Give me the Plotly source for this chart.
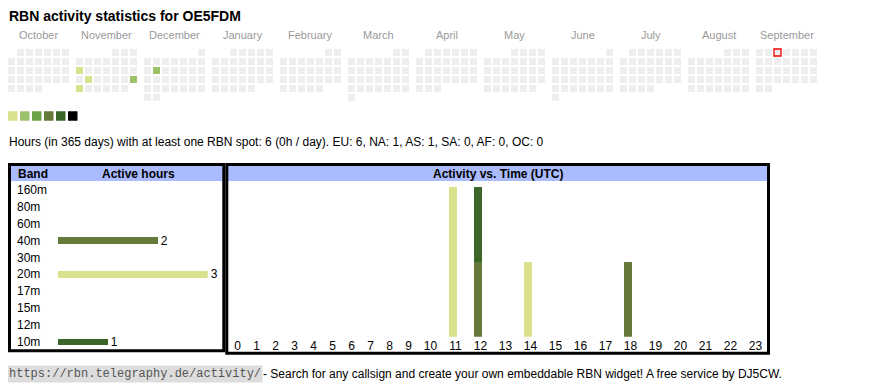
import datetime as dt
import plotly.graph_objects as go

# ---------------- data ----------------
title_text = "RBN activity statistics for OE5FDM"
month_names = ["October", "November", "December", "January", "February", "March",
               "April", "May", "June", "July", "August", "September"]
start_year, start_month = 2024, 10
active_days = ["2024-11-11", "2024-11-19", "2024-11-24", "2024-11-25", "2024-12-10"]
active_levels = [1, 1, 2, 1, 2]
today = "2025-09-03"
level_colors = ["#eeeeee", "#dae18c", "#9cc16a", "#6aa345", "#66793a", "#3c6628", "#000000"]
summary_text = ("Hours (in 365 days) with at least one RBN spot: 6 (0h / day). "
                "EU: 6, NA: 1, AS: 1, SA: 0, AF: 0, OC: 0")

bands = ["160m", "80m", "60m", "40m", "30m", "20m", "17m", "15m", "12m", "10m"]
band_hours = [0, 0, 0, 2, 0, 3, 0, 0, 0, 1]
band_colors = ["#dae18c", "#9cc16a", "#6aa345", "#66793a", "#3c6628",
               "#dae18c", "#9cc16a", "#6aa345", "#66793a", "#3c6628"]

hour_labels = [str(h) for h in range(24)]
hours_40m = [0, 0, 0, 0, 0, 0, 0, 0, 0, 0, 0, 0, 1, 0, 0, 0, 0, 0, 1, 0, 0, 0, 0, 0]
hours_20m = [0, 0, 0, 0, 0, 0, 0, 0, 0, 0, 0, 2, 0, 0, 1, 0, 0, 0, 0, 0, 0, 0, 0, 0]
hours_10m = [0, 0, 0, 0, 0, 0, 0, 0, 0, 0, 0, 0, 1, 0, 0, 0, 0, 0, 0, 0, 0, 0, 0, 0]

footer_url = "https://rbn.telegraphy.de/activity/"
footer_text = "- Search for any callsign and create your own embeddable RBN widget! A free service by DJ5CW."

# ---------------- layout constants ----------------
PAGE_W, PAGE_H = 870, 390
OFF = 8                      # page body margin around the figure
W, H = PAGE_W - OFF, PAGE_H - OFF
FONT = "Liberation Sans, Arial, sans-serif"
CAL_X0, CAL_Y0, CELL, PITCH, MONTH_PITCH = 8, 49, 7, 9, 68
HEADER_BLUE = "#aabbff"


def px(x):
    return (x - OFF) / W


def py(y):
    return 1 - (y - OFF) / H


# ---------------- calendar ----------------
level_of = {d: l for d, l in zip(active_days, active_levels)}
cx, cy, ccol = [], [], []
today_xy = None
for m in range(12):
    yo, mo = divmod(start_month - 1 + m, 12)
    year, mo = start_year + yo, mo + 1
    first = dt.date(year, mo, 1)
    nxt = dt.date(year + (mo == 12), mo % 12 + 1, 1)
    for d in range(1, (nxt - first).days + 1):
        date = dt.date(year, mo, d)
        row = (d - 1 + first.weekday()) // 7
        x = CAL_X0 + m * MONTH_PITCH + date.weekday() * PITCH + CELL / 2
        y = CAL_Y0 + row * PITCH + CELL / 2
        cx.append(x)
        cy.append(y)
        ccol.append(level_colors[level_of.get(date.isoformat(), 0)])
        if date.isoformat() == today:
            today_xy = (x, y)

fig = go.Figure()
fig.add_trace(go.Scatter(x=cx, y=cy, mode="markers", xaxis="x", yaxis="y",
                         marker=dict(symbol="square", size=CELL, color=ccol, line=dict(width=0)),
                         hoverinfo="skip"))
fig.add_trace(go.Scatter(x=[today_xy[0]], y=[today_xy[1]], mode="markers", xaxis="x", yaxis="y",
                         marker=dict(symbol="square", size=CELL, color="#eeeeee",
                                     line=dict(width=1.3, color="#ee0000")),
                         hoverinfo="skip"))
# colour scale legend
lx = [CAL_X0 + 4.75 + i * 12 for i in range(len(level_colors) - 1)]
fig.add_trace(go.Scatter(x=lx, y=[116] * len(lx), mode="markers", xaxis="x", yaxis="y",
                         marker=dict(symbol="square", size=9.5, color=level_colors[1:], line=dict(width=0)),
                         hoverinfo="skip"))

# ---------------- band chart ----------------
fig.add_trace(go.Bar(y=bands, x=band_hours, orientation="h", xaxis="x2", yaxis="y2",
                     marker=dict(color=band_colors, line=dict(width=0)), width=0.4,
                     text=[str(v) if v else "" for v in band_hours], textposition="outside",
                     textfont=dict(family=FONT, size=12, color="#000"),
                     constraintext="none", cliponaxis=False, hoverinfo="skip"))

# ---------------- hour chart ----------------
col_w = [19 if len(l) == 1 else 25 for l in hour_labels]
centers, acc = [], 0
for w in col_w:
    centers.append(acc + w / 2)
    acc += w
for vals, col in [(hours_40m, "#66793a"), (hours_20m, "#dae18c"), (hours_10m, "#3c6628")]:
    fig.add_trace(go.Bar(x=centers, y=vals, xaxis="x3", yaxis="y3", width=8, offset=-6.5,
                         marker=dict(color=col, line=dict(width=0)), hoverinfo="skip"))

# ---------------- shapes ----------------
shapes = [
    dict(type="rect", xref="x", yref="y", x0=10, x1=223, y0=166, y1=181,
         fillcolor=HEADER_BLUE, line=dict(width=0), layer="below"),
    dict(type="rect", xref="x", yref="y", x0=228, x1=768, y0=166, y1=181,
         fillcolor=HEADER_BLUE, line=dict(width=0), layer="below"),
    dict(type="rect", xref="x", yref="y", x0=9.5, x1=223.8, y0=164.5, y1=350.8,
         line=dict(width=3, color="#000"), fillcolor="rgba(0,0,0,0)"),
    dict(type="rect", xref="x", yref="y", x0=226.8, x1=768.5, y0=164.5, y1=353.3,
         line=dict(width=3, color="#000"), fillcolor="rgba(0,0,0,0)"),
]


# ---------------- annotations ----------------
def label(x, y, text, size=12, color="#000", anchor="left", family=FONT, **kw):
    return dict(x=px(x), y=py(y), xref="paper", yref="paper", text=text, showarrow=False,
                xanchor=anchor, yanchor="middle", font=dict(family=family, size=size, color=color), **kw)


ann = [label(7, 16, "<b>" + title_text + "</b>", size=14)]
for m, name in enumerate(month_names):
    ann.append(label(CAL_X0 + m * MONTH_PITCH + 30.5, 35, name, size=11, color="#999999", anchor="center"))
ann.append(label(7, 142, summary_text))
ann.append(label(16, 173.5, "<b>Band</b>"))
ann.append(label(138, 173.5, "<b>Active hours</b>", anchor="center"))
ann.append(label(498, 173.5, "<b>Activity vs. Time (UTC)</b>", anchor="center"))
for b in bands:
    ann.append(dict(x=px(15), y=b, xref="paper", yref="y2", text=b, showarrow=False,
                    xanchor="left", yanchor="middle", font=dict(family=FONT, size=12, color="#000")))
ann.append(label(7, 374, footer_url, color="#555555", bgcolor="#dddddd", borderpad=1,
                 family="Liberation Mono, Courier New, monospace"))
ann.append(label(261, 374, footer_text, size=12))

noax = dict(showgrid=False, zeroline=False, showline=False, ticks="", showticklabels=False, fixedrange=True)

fig.update_layout(
    width=W, height=H, margin=dict(l=0, r=0, t=0, b=0, pad=0),
    paper_bgcolor="white", plot_bgcolor="rgba(0,0,0,0)",
    showlegend=False, barmode="stack", bargap=0,
    xaxis=dict(noax, domain=[0, 1], range=[OFF, PAGE_W]),
    yaxis=dict(noax, domain=[0, 1], range=[PAGE_H, OFF]),
    xaxis2=dict(noax, domain=[px(57.7), px(207.7)], range=[0, 3], anchor="y2"),
    yaxis2=dict(noax, domain=[py(350.5), py(181.5)], type="category", categoryorder="array",
                categoryarray=bands, range=[9.5, -0.5], anchor="x2"),
    xaxis3=dict(showgrid=False, zeroline=False, showline=False, ticks="", fixedrange=True,
                domain=[px(228), px(228 + acc)], range=[0, acc], anchor="y3",
                tickmode="array", tickvals=centers, ticktext=hour_labels,
                tickfont=dict(family=FONT, size=12, color="#000")),
    yaxis3=dict(noax, domain=[py(336.7), py(186.7)], range=[0, 2], anchor="x3"),
    shapes=shapes, annotations=ann,
    font=dict(family=FONT),
)

fig.write_html("out.html", config=dict(displayModeBar=False, staticPlot=True))
